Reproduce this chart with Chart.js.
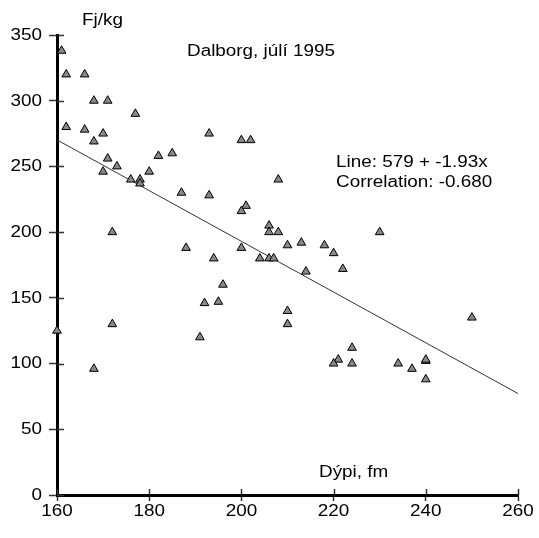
<!DOCTYPE html>
<html>
<head>
<meta charset="utf-8">
<script src="https://cdn.jsdelivr.net/npm/chart.js@4.4.0/dist/chart.umd.min.js"></script>
<style>
  html, body { margin: 0; padding: 0; background: #fff; }
  #wrap { width: 539px; height: 538px; }
</style>
</head>
<body>
<div id="wrap"><canvas id="mainChart" width="539" height="538"></canvas></div>
<script>
// Dýpi (fm) og Fj/kg - Dalborg, júlí 1995
const depth = [
  160, 161, 162, 166, 168, 171, 177, 162, 166, 170, 168, 193, 171, 182, 185, 173,
  170, 180, 176, 178, 178, 187, 193, 172, 188, 194, 192, 195, 172, 191, 168,
  200, 202, 208, 201, 200, 206, 206, 208, 200, 210, 213, 218, 220, 222,
  204, 206, 207, 214, 196, 210, 210, 224, 221, 220, 224, 230, 250, 234, 237, 240, 240, 240
];
const fjkg = [
  125, 338, 320, 320, 300, 300, 290, 280, 278, 275, 269, 275, 256, 258, 260, 250,
  246, 246, 240, 240, 237, 230, 228, 200, 188, 180, 146, 147, 130, 120, 96,
  270, 270, 240, 220, 216, 205, 200, 200, 188, 190, 192, 190, 184, 172,
  180, 180, 180, 170, 160, 140, 130, 112, 103, 100, 100, 200, 135, 100, 96, 102, 103, 88
];

// Aðhvarfslína úr myndinni
const intercept = 579;
const slope = -1.93;
const lineX = [160, 260];

const xTicks = [160, 180, 200, 220, 240, 260];
const yTicks = [0, 50, 100, 150, 200, 250, 300, 350];

const FONT = 'Arial, "Liberation Sans", sans-serif';
const STRETCH = 1.18; // letrið í frumritinu er breiðara

const points = depth.map((d, i) => ({ x: d, y: fjkg[i] }));
const linePts = lineX.map(x => ({ x: x, y: intercept + slope * x }));

function wideText(ctx, str, x, y, align) {
  ctx.save();
  ctx.translate(x, y);
  ctx.scale(STRETCH, 1);
  ctx.textAlign = align;
  ctx.fillText(str, 0, 0);
  ctx.restore();
}

// Texti, merkimiðar og innri hluti merkja á ásum
const extras = {
  id: 'extras',
  afterDraw(chart) {
    const ctx = chart.ctx;
    const xs = chart.scales.x;
    const ys = chart.scales.y;
    const area = chart.chartArea;
    ctx.save();
    ctx.strokeStyle = '#333';
    ctx.lineWidth = 1.5;
    ctx.beginPath();
    yTicks.forEach(v => {
      const py = Math.round(ys.getPixelForValue(v)) + 0.5;
      ctx.moveTo(area.left, py);
      ctx.lineTo(area.left + 7, py);
    });
    xTicks.forEach(v => {
      const px = Math.round(xs.getPixelForValue(v)) + 0.5;
      ctx.moveTo(px, area.bottom);
      ctx.lineTo(px, area.bottom - 6);
    });
    ctx.stroke();

    ctx.fillStyle = '#000';
    ctx.font = '16px ' + FONT;

    ctx.textBaseline = 'middle';
    yTicks.forEach(v => {
      wideText(ctx, String(v), 42, ys.getPixelForValue(v) + 0.5, 'right');
    });
    xTicks.forEach(v => {
      wideText(ctx, String(v), xs.getPixelForValue(v), 512, 'center');
    });

    ctx.textBaseline = 'alphabetic';
    wideText(ctx, 'Fj/kg', 82, 25, 'left');
    wideText(ctx, 'Dalborg, júlí 1995', 187, 56, 'left');
    wideText(ctx, 'Line: 579 + -1.93x', 336, 167, 'left');
    wideText(ctx, 'Correlation: -0.680', 336, 187, 'left');
    wideText(ctx, 'Dýpi, fm', 319, 477, 'left');
    ctx.restore();
  }
};

new Chart(document.getElementById('mainChart'), {
  type: 'scatter',
  data: {
    datasets: [{
      label: 'Fj/kg',
      data: points,
      pointStyle: 'triangle',
      pointRadius: 5,
      pointBackgroundColor: '#888',
      pointBorderColor: '#000',
      pointBorderWidth: 1,
      showLine: false,
      clip: false
    }, {
      type: 'line',
      label: 'Line',
      data: linePts,
      borderColor: '#333',
      borderWidth: 1,
      pointRadius: 0,
      fill: false
    }]
  },
  options: {
    responsive: false,
    animation: false,
    layout: { padding: { top: 35, right: 21, left: 0, bottom: 0 } },
    plugins: {
      legend: { display: false },
      tooltip: { enabled: false }
    },
    scales: {
      x: {
        type: 'linear',
        min: 160,
        max: 260,
        afterFit: s => { s.height = 43; },
        afterBuildTicks: s => { s.ticks = xTicks.map(v => ({ value: v })); },
        border: { display: true, color: '#000', width: 3 },
        grid: { display: true, drawOnChartArea: false, tickLength: 6, tickWidth: 1.5, tickColor: '#333' },
        ticks: { display: false }
      },
      y: {
        type: 'linear',
        min: 0,
        max: 350,
        afterFit: s => { s.width = 57; },
        afterBuildTicks: s => { s.ticks = yTicks.map(v => ({ value: v })); },
        border: { display: true, color: '#000', width: 3 },
        grid: { display: true, drawOnChartArea: false, tickLength: 8, tickWidth: 1.5, tickColor: '#333' },
        ticks: { display: false }
      }
    }
  },
  plugins: [extras]
});
</script>
</body>
</html>
